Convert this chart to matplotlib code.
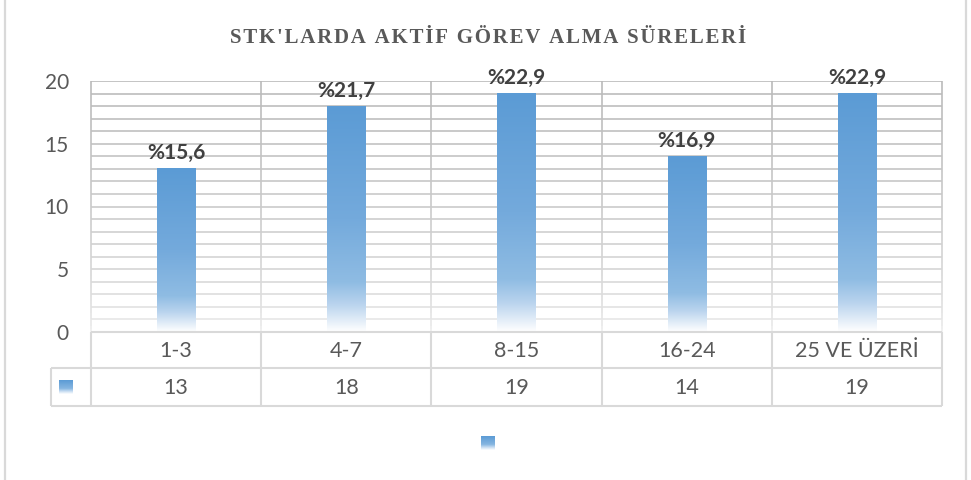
import numpy as np
import matplotlib
matplotlib.use('Agg')
import matplotlib.pyplot as plt
from matplotlib.colors import LinearSegmentedColormap
from matplotlib.collections import LineCollection
from matplotlib.patches import Rectangle

# Data
categories = ['1-3', '4-7', '8-15', '16-24', '25 VE ÜZERİ']
counts = [13, 18, 19, 14, 19]
percent_labels = ['%15,6', '%21,7', '%22,9', '%16,9', '%22,9']
title = "STK'LARDA AKTİF GÖREV ALMA SÜRELERİ"

W, H = 971, 480
plt.rcParams['font.family'] = ['Lato', 'DejaVu Sans']

fig = plt.figure(figsize=(W / 100, H / 100), dpi=100)
fig.patch.set_facecolor('white')


def fx(px):
    return px / W


def fy(py):
    return 1 - py / H


# outer chart border
fig.add_artist(Rectangle((fx(5), fy(482)), fx(961), 1 + 5 / H, transform=fig.transFigure,
                         fill=False, edgecolor='#D9D9D9', lw=1.6))

ax_l, ax_r, ax_t, ax_b = 91, 942, 81, 332
ax = fig.add_axes([fx(ax_l), fy(ax_b), fx(ax_r - ax_l), fy(ax_t) - fy(ax_b)])
ax.set_xlim(-0.5, len(categories) - 0.5)
ax.set_ylim(0, 20)
for s in ax.spines.values():
    s.set_visible(False)
ax.tick_params(axis='both', length=0)
ax.set_xticks([])
ax.set_yticks(range(0, 21, 5))
ax.tick_params(axis='y', labelsize=15, labelcolor='#595959', pad=16)


def grid_gray(v):
    t = v / 20.0
    g = 0.95 - 0.22 * t ** 0.5
    return (g, g, g)


# horizontal gridlines (fade toward the bottom)
for v in range(1, 21):
    ax.axhline(v, color=grid_gray(v), lw=1.2, zorder=1)

# vertical category separators, drawn in small pieces for the fade
segs, cols = [], []
steps = np.linspace(0, 20, 81)
for xb in np.arange(-0.5, len(categories), 1.0):
    for a, b in zip(steps[:-1], steps[1:]):
        segs.append([(xb, a), (xb, b)])
        cols.append(grid_gray((a + b) / 2))
ax.add_collection(LineCollection(segs, colors=cols, lw=1.2, zorder=1, clip_on=False))

# gradient bars
bar_cmap = LinearSegmentedColormap.from_list(
    'bar', [(0.0, '#5B9BD5'), (0.5, '#74AADC'), (0.78, '#8FBCE3'),
            (0.88, '#BAD4EE'), (1.0, '#FFFFFF')])
grad = np.linspace(0, 1, 256).reshape(-1, 1)
bw = 0.225
for i, (c, lab) in enumerate(zip(counts, percent_labels)):
    ax.imshow(grad, cmap=bar_cmap, aspect='auto', origin='upper',
              extent=[i - bw / 2, i + bw / 2, 0, c], zorder=3, interpolation='bilinear')
    ax.annotate(lab, (i, c), xytext=(0, 4), textcoords='offset points',
                ha='center', va='bottom', fontsize=15, fontweight='bold', color='#404040')
ax.set_xlim(-0.5, len(categories) - 0.5)
ax.set_ylim(0, 20)

# data table under the plot
tcol = '#D9D9D9'
row1, row2, row3 = 332, 368, 406
lines = [
    [(fx(ax_l), fy(row1)), (fx(ax_r), fy(row1))],
    [(fx(51), fy(row2)), (fx(ax_r), fy(row2))],
    [(fx(51), fy(row3)), (fx(ax_r), fy(row3))],
    [(fx(51), fy(row2)), (fx(51), fy(row3))],
]
cell_w = (ax_r - ax_l) / len(categories)
for k in range(len(categories) + 1):
    xp = ax_l + k * cell_w
    lines.append([(fx(xp), fy(row1)), (fx(xp), fy(row3))])
fig.add_artist(LineCollection(lines, colors=tcol, lw=1.5, transform=fig.transFigure))

for k, (cat, c) in enumerate(zip(categories, counts)):
    xc = fx(ax_l + (k + 0.5) * cell_w)
    fig.text(xc, fy((row1 + row2) / 2 + 1), cat, ha='center', va='center',
             fontsize=15.5, color='#595959')
    fig.text(xc, fy((row2 + row3) / 2 + 1), str(c), ha='center', va='center',
             fontsize=15.5, color='#595959')


# legend keys (table row key + bottom legend)
key_cmap = LinearSegmentedColormap.from_list(
    'key', [(0.0, '#5B9BD5'), (0.6, '#86B6E1'), (0.8, '#C6DCF1'), (1.0, '#FFFFFF')])
for (kx, ky) in [(59, 380), (481, 436)]:
    kax = fig.add_axes([fx(kx), fy(ky + 14), fx(14), 14 / H])
    kax.imshow(grad, cmap=key_cmap, aspect='auto', interpolation='bilinear')
    kax.axis('off')

# title, letter-spaced
fig.text(fx(488), fy(38), '\u200a'.join(title), ha='center', va='center',
         fontsize=15, fontweight='bold', color='#595959', family='Liberation Serif')

fig.savefig('out.png', dpi=100, facecolor='white')
